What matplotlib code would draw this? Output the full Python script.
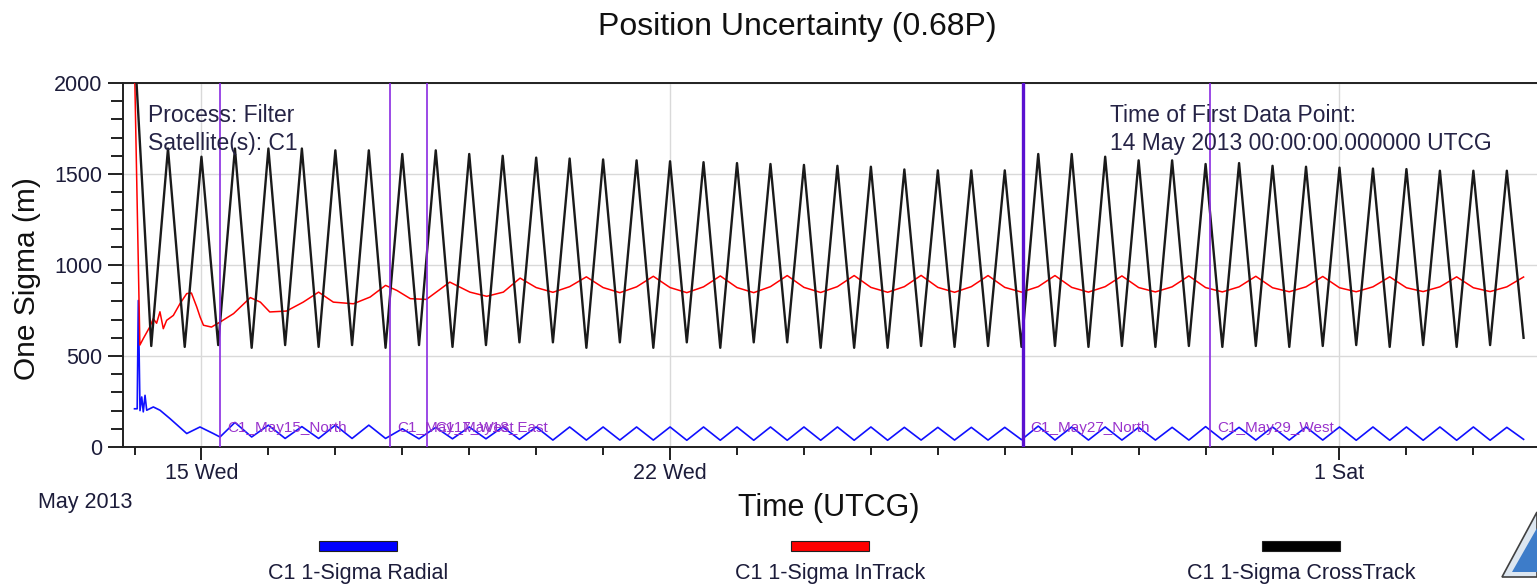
import numpy as np
import pandas as pd
import matplotlib
matplotlib.use("Agg")
import matplotlib.pyplot as plt
import matplotlib.dates as mdates
from matplotlib.ticker import MultipleLocator
from matplotlib.patches import Rectangle, Polygon

plt.rcParams['font.family'] = ['Liberation Sans', 'DejaVu Sans']

W, H = 1537, 584          # output size in px
start = pd.Timestamp("2013-05-14 00:00:00")
step = 0.25               # 6 h sampling (days) for the regular parts

# ---- values ----
# cross track, every 6 h from day 0 (peak / trough alternate)
cross_vals = [2200, 555, 1640, 550, 1595, 560, 1640, 545, 1640, 560,
              1640, 550, 1630, 560, 1630, 545, 1610, 560, 1630, 550,
              1610, 560, 1600, 575, 1590, 575, 1585, 545, 1580, 575,
              1575, 545, 1570, 575, 1565, 545, 1560, 575, 1555, 575,
              1550, 545, 1545, 545, 1540, 545, 1525, 555, 1520, 550,
              1520, 555, 1520, 550, 1610, 555, 1610, 550, 1595, 555,
              1575, 550, 1575, 555, 1555, 550, 1560, 555, 1545, 550,
              1540, 555, 1535, 560, 1530, 550, 1527, 560, 1518, 550,
              1518, 560, 1518, 600]

# in track: settling part (irregular days), then every 6 h from day 6
intrack_head_days = [0.0, 0.08, 0.13, 0.23, 0.28, 0.33, 0.38, 0.43, 0.48, 0.58,
                     0.68, 0.78, 0.85, 0.93, 0.98, 1.03, 1.15, 1.28, 1.48, 1.73,
                     1.88, 2.02, 2.27, 2.52, 2.75, 2.97, 3.27, 3.52, 3.75, 3.92,
                     4.12, 4.36, 4.71, 5.01, 5.26, 5.51, 5.76]
intrack_head_vals = [2100, 560, 595, 661, 705, 680, 743, 650, 696, 723,
                     788, 843, 846, 769, 714, 669, 659, 687, 733, 821,
                     796, 742, 747, 796, 851, 796, 787, 824, 888, 860,
                     815, 811, 906, 851, 828, 851, 928]
intrack_from = 6.0
intrack_vals = [876, 850, 881, 935,  876, 848, 880, 938,  876, 848, 880, 940,
                876, 848, 881, 942,  877, 849, 881, 942,  877, 850, 881, 943,
                877, 850, 881, 942,  877, 851, 881, 942,  877, 851, 881, 940,
                876, 852, 880, 940,  876, 852, 880, 938,  875, 853, 880, 937,
                875, 853, 880, 935,  875, 854, 880, 935,  875, 854, 880, 934]

# radial: settling part, then every 6 h from day 1.5
radial_head_days = [0.0, 0.04, 0.057, 0.082, 0.108, 0.131, 0.157, 0.182,
                    0.281, 0.381, 0.53, 0.78, 0.978, 1.177, 1.277]
radial_head_vals = [210, 210, 805, 200, 275, 193, 284, 202,
                    220, 202, 156, 74, 110, 74, 55]
radial_from = 1.5
radial_vals = [135, 55, 120, 47, 112, 47, 120, 47, 120, 47, 100, 45,
               108, 45, 110, 45, 110, 42, 110, 38, 110, 38, 110, 38,
               110, 38, 110, 37, 110, 37, 110, 37, 110, 37, 110, 37,
               110, 37, 110, 37, 108, 38, 108, 38, 108, 38, 108, 40,
               115, 38, 110, 38, 110, 38, 108, 38, 108, 38, 112, 40,
               108, 38, 110, 38, 110, 38, 110, 37, 110, 37, 110, 37,
               110, 37, 110, 37, 108, 42]

# maneuvers
man_times = ["2013-05-15 06:40", "2013-05-17 19:35", "2013-05-18 08:57",
             "2013-05-27 06:29", "2013-05-30 01:26"]
man_names = ["C1_May15_North", "C1_May17_West", "C1_May18_East",
             "C1_May27_North", "C1_May29_West"]

tick_dates = ["2013-05-15", "2013-05-22", "2013-06-01"]
tick_labels = ["15 Wed", "22 Wed", "1 Sat"]

legend_labels = ["C1 1-Sigma Radial", "C1 1-Sigma InTrack", "C1 1-Sigma CrossTrack"]


def to_time(days):
    return start + pd.to_timedelta(np.asarray(days, dtype=float), unit="D")


cross_t = to_time(np.arange(len(cross_vals)) * step)
intrack_t = to_time(np.concatenate([intrack_head_days,
                                    intrack_from + np.arange(len(intrack_vals)) * step]))
intrack_y = intrack_head_vals + intrack_vals
radial_t = to_time(np.concatenate([radial_head_days,
                                   radial_from + np.arange(len(radial_vals)) * step]))
radial_y = radial_head_vals + radial_vals


def fx(px):
    return px / W


def fy(py):
    return 1 - py / H


txt = '#1c1c3a'

fig = plt.figure(figsize=(W / 100, H / 100), dpi=100)
ax = fig.add_axes([fx(123), fy(447), (1545 - 123) / W, (447 - 83) / H])

ax.plot(radial_t, radial_y, color='#1010ff', lw=1.2, zorder=3)
ax.plot(intrack_t, intrack_y, color='#ff0000', lw=1.1, zorder=4)
ax.plot(cross_t, cross_vals, color='#1a1a1a', lw=1.7, zorder=5)

for t, name in zip(pd.to_datetime(man_times), man_names):
    thick = name == "C1_May27_North"
    ax.axvline(t, color='#5a10d0' if thick else '#8a2be2',
               lw=2.4 if thick else 1.2, zorder=6)
    ax.annotate(name, xy=(t, 82), xytext=(5.5, 0), textcoords='offset points',
                fontsize=11, color='#9933cc', va='baseline', zorder=7)

ax.set_xlim(to_time([-0.172])[0], to_time([21.07])[0])
ax.set_ylim(0, 2000)
ax.yaxis.set_major_locator(MultipleLocator(500))
ax.yaxis.set_minor_locator(MultipleLocator(100))
ax.set_xticks(pd.to_datetime(tick_dates))
ax.set_xticklabels(tick_labels)
ax.xaxis.set_minor_locator(mdates.DayLocator())

ax.tick_params(axis='y', which='major', length=11, width=1.4, labelsize=15.5,
               pad=3.8, color='#202020', labelcolor=txt)
ax.tick_params(axis='y', which='minor', length=8.6, width=1.4, color='#202020')
ax.tick_params(axis='x', which='major', length=9.4, width=1.4, labelsize=15.5,
               pad=1.8, color='#202020', labelcolor=txt)
ax.tick_params(axis='x', which='minor', length=5.8, width=1.4, color='#202020')

ax.grid(True, which='major', color='#d9d9d9', lw=1.0)
ax.set_axisbelow(True)
for s in ['left', 'bottom', 'top']:
    ax.spines[s].set_color('#202020')
    ax.spines[s].set_linewidth(1.4)
ax.spines['right'].set_visible(False)

# titles and labels
fig.text(fx(797), fy(27), "Position Uncertainty (0.68P)", ha='center', va='center',
         fontsize=23, color='#111111')
fig.text(fx(27), fy(279), "One Sigma (m)", rotation=90, ha='center', va='center',
         fontsize=21.5, color='#111111')
fig.text(fx(829), fy(508), "Time (UTCG)", ha='center', va='center',
         fontsize=22, color='#111111')
fig.text(fx(38), fy(508), "May 2013", fontsize=15.5, va='baseline', color=txt)

# info boxes inside the plot
note = '#252345'
fig.text(fx(148), fy(122.5), "Process: Filter", fontsize=16.5, va='baseline', color=note)
fig.text(fx(148), fy(150), "Satellite(s): C1", fontsize=16.5, va='baseline', color=note)
fig.text(fx(1110), fy(122.5), "Time of First Data Point:", fontsize=16.5,
         va='baseline', color=note)
fig.text(fx(1110), fy(150), "14 May 2013 00:00:00.000000 UTCG", fontsize=16.5,
         va='baseline', color=note)

# legend below the axis
for cx, col, lab in zip([358, 830, 1301], ['#0000ff', '#ff0000', '#000000'], legend_labels):
    fig.add_artist(Rectangle((fx(cx - 39), fy(551)), 78 / W, 10 / H,
                             transform=fig.transFigure, facecolor=col,
                             edgecolor='#202020', lw=0.8))
    fig.text(fx(cx), fy(579), lab, ha='center', va='baseline', fontsize=15.5, color=txt)

# logo corner
fig.add_artist(Polygon([(fx(1537), fy(512)), (fx(1502), fy(577)), (fx(1537), fy(577))],
                       closed=True, transform=fig.transFigure,
                       facecolor='#dce6f0', edgecolor='#404040', lw=1.2))
fig.add_artist(Polygon([(fx(1537), fy(528)), (fx(1512), fy(572)), (fx(1537), fy(572))],
                       closed=True, transform=fig.transFigure,
                       facecolor='#3d7cc9', edgecolor='none'))

fig.savefig("out.png", dpi=100)
